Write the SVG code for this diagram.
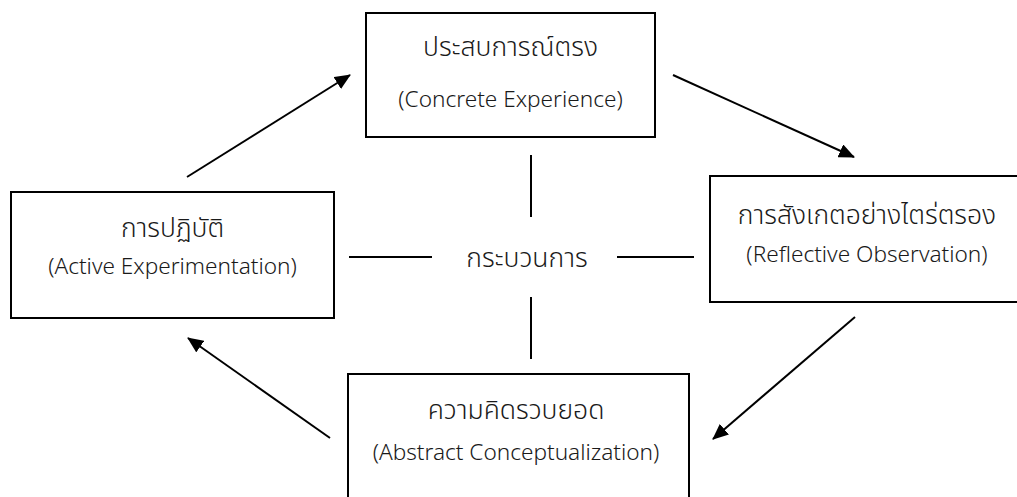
<svg xmlns="http://www.w3.org/2000/svg" width="1017" height="497" viewBox="0 0 1017 497">
<defs>
<style>
.box{fill:#fff;stroke:#000;stroke-width:2}
.t{font-family:"Noto Sans","Noto Sans Thai","DejaVu Sans",sans-serif;fill:#1a1a1a;text-anchor:middle;font-weight:300}
.th{font-size:26.5px}
.en{font-size:22.6px}
.ln{stroke:#000;stroke-width:2;fill:none}
</style>
<marker id="ah" viewBox="0 0 16 14" refX="15" refY="7" markerWidth="16" markerHeight="14" markerUnits="userSpaceOnUse" orient="auto">
<path d="M0,0 L16,7 L0,14 z" fill="#000"/>
</marker>
</defs>
<rect width="1017" height="497" fill="#fff"/>
<g id="connectors">
<line class="ln" x1="187" y1="177" x2="350" y2="75" marker-end="url(#ah)"/>
<line class="ln" x1="673" y1="75" x2="854" y2="157" marker-end="url(#ah)"/>
<line class="ln" x1="855" y1="317" x2="713" y2="439" marker-end="url(#ah)"/>
<line class="ln" x1="330" y1="438" x2="188" y2="338" marker-end="url(#ah)"/>
<line class="ln" x1="531" y1="155" x2="531" y2="217"/>
<line class="ln" x1="531" y1="297" x2="531" y2="359"/>
<line class="ln" x1="349" y1="257" x2="432" y2="257"/>
<line class="ln" x1="617" y1="257" x2="694" y2="257"/>
</g>
<g id="center">
<text class="t th" x="527" y="267">กระบวนการ</text>
</g>
<g id="concrete">
<rect class="box" x="366" y="13" width="289" height="124"/>
<text class="t th" x="510.5" y="56">ประสบการณ์ตรง</text>
<text class="t en" x="510.5" y="107">(Concrete Experience)</text>
</g>
<g id="active">
<rect class="box" x="11" y="192" width="323" height="126"/>
<text class="t th" x="172.5" y="237">การปฏิบัติ</text>
<text class="t en" x="172.5" y="274">(Active Experimentation)</text>
</g>
<g id="reflective">
<rect class="box" x="710" y="176" width="314" height="126"/>
<text class="t th" x="867" y="224">การสังเกตอย่างไตร่ตรอง</text>
<text class="t en" x="867" y="262">(Reflective Observation)</text>
</g>
<g id="abstract">
<rect class="box" x="348" y="374" width="341" height="140"/>
<text class="t th" x="516" y="419">ความคิดรวบยอด</text>
<text class="t en" x="516" y="460">(Abstract Conceptualization)</text>
</g>
</svg>
